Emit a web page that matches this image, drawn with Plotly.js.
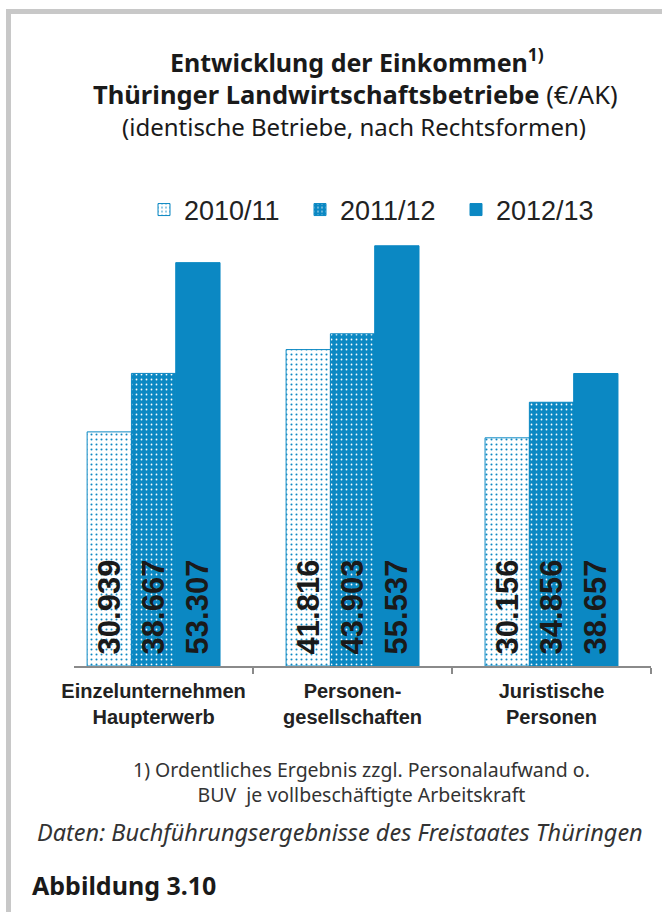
<!DOCTYPE html>
<html><head><meta charset="utf-8">
<script src="https://cdn.plot.ly/plotly-3.0.1.min.js"></script>
<style>html,body{margin:0;padding:0;background:#fff}</style>
</head><body><div id="chart" style="width:662px;height:912px"></div>
<script>
// ---- data ----
const categories = ["Einzelunternehmen<br>Haupterwerb", "Personen-<br>gesellschaften", "Juristische<br>Personen"];
const seriesNames = ["2010/11", "2011/12", "2012/13"];
const values2010 = [30939, 41816, 30156];
const values2011 = [38667, 43903, 34856];
const values2012 = [53307, 55537, 38657];

// ---- geometry helpers (pixel -> paper) ----
const W = 662, H = 912, M = {l: 74, r: 11, t: 212, b: 246};
const pw = W - M.l - M.r, ph = H - M.t - M.b;
const px = x => (x - M.l) / pw;
const py = y => (H - M.b - y) / ph;

const BLUE = '#0b88c3';
const LABEL_FONT = {family: 'Liberation Sans, Arial, sans-serif', size: 31, color: '#1a1a1a', weight: 700};

function barTrace(name, vals, marker) {
  return {
    type: 'bar', name: name, x: categories, y: vals,
    texttemplate: '\u00a0%{y:,}', textposition: 'inside', insidetextanchor: 'start',
    textangle: -90, constraintext: 'none', textfont: LABEL_FONT, insidetextfont: LABEL_FONT,
    cliponaxis: false, hoverinfo: 'skip', marker: marker
  };
}

const data = [
  barTrace(seriesNames[0], values2010, {
    color: '#ffffff', line: {color: BLUE, width: 1},
    pattern: {shape: '.', fgcolor: BLUE, bgcolor: '#ffffff', size: 5, solidity: 0.13, fillmode: 'replace'}
  }),
  barTrace(seriesNames[1], values2011, {
    color: BLUE, line: {color: BLUE, width: 1},
    pattern: {shape: '.', fgcolor: '#ffffff', bgcolor: BLUE, size: 5, solidity: 0.1, fillmode: 'replace'}
  }),
  barTrace(seriesNames[2], values2012, {
    color: BLUE, line: {color: BLUE, width: 1}
  })
];

const NOTO = 'Noto Sans, sans-serif';
function ann(text, x, y, size, opts) {
  return Object.assign({
    text: text, xref: 'paper', yref: 'paper', x: px(x), y: py(y),
    xanchor: 'center', yanchor: 'middle', showarrow: false,
    font: {family: NOTO, size: size, color: '#1a1a1a'}
  }, opts || {});
}
const grey = s => ({font: {family: NOTO, size: s, color: '#333'}});

const layout = {
  width: W, height: H, margin: M,
  paper_bgcolor: '#ffffff', plot_bgcolor: '#ffffff',
  separators: ',.',
  barmode: 'group', bargap: 0.332, bargroupgap: 0,
  showlegend: true,
  legend: {
    orientation: 'h', xanchor: 'center', x: px(378), yanchor: 'middle', y: py(210),
    font: {family: 'Liberation Sans, Arial, sans-serif', size: 27, color: '#222'},
    entrywidth: 111, bgcolor: 'rgba(0,0,0,0)', traceorder: 'normal'
  },
  xaxis: {
    range: [-0.4, 2.5], showline: true, linecolor: '#8a8a8a', linewidth: 2,
    ticks: 'outside', tickson: 'boundaries', ticklen: 6, tickwidth: 1.5, tickcolor: '#8a8a8a',
    ticklabelstandoff: 6,
    tickfont: {family: 'Liberation Sans, Arial, sans-serif', size: 20, color: '#222', weight: 700},
    showgrid: false, zeroline: false, fixedrange: true
  },
  yaxis: {range: [0, 60000], visible: false, fixedrange: true},
  shapes: [
    {type: 'rect', xref: 'paper', yref: 'paper', x0: px(6), x1: px(668), y0: py(9), y1: py(14),
     fillcolor: '#c8c8c8', line: {width: 0}, layer: 'below'},
    {type: 'rect', xref: 'paper', yref: 'paper', x0: px(6), x1: px(11), y0: py(9), y1: py(920),
     fillcolor: '#c8c8c8', line: {width: 0}, layer: 'below'}
  ],
  annotations: [
    ann('<b>Entwicklung der Einkommen<sup>1)</sup></b>', 357, 60, 25),
    ann('<b>Thüringer Landwirtschaftsbetriebe</b> (€/AK)', 355, 94, 25.5),
    ann('(identische Betriebe, nach Rechtsformen)', 354, 126, 24),
    ann('1) Ordentliches Ergebnis zzgl. Personalaufwand o.<br>BUV\u00a0 je vollbeschäftigte Arbeitskraft', 361, 782, 19.5, grey(19.5)),
    ann('<i>Daten: Buchführungsergebnisse des Freistaates Thüringen</i>', 340, 832, 23.5, grey(23.5)),
    ann('<b>Abbildung 3.10</b>', 30, 885, 25, {xanchor: 'left'})
  ]
};

Plotly.newPlot('chart', data, layout, {staticPlot: true, displayModeBar: false});
</script>
</body></html>
